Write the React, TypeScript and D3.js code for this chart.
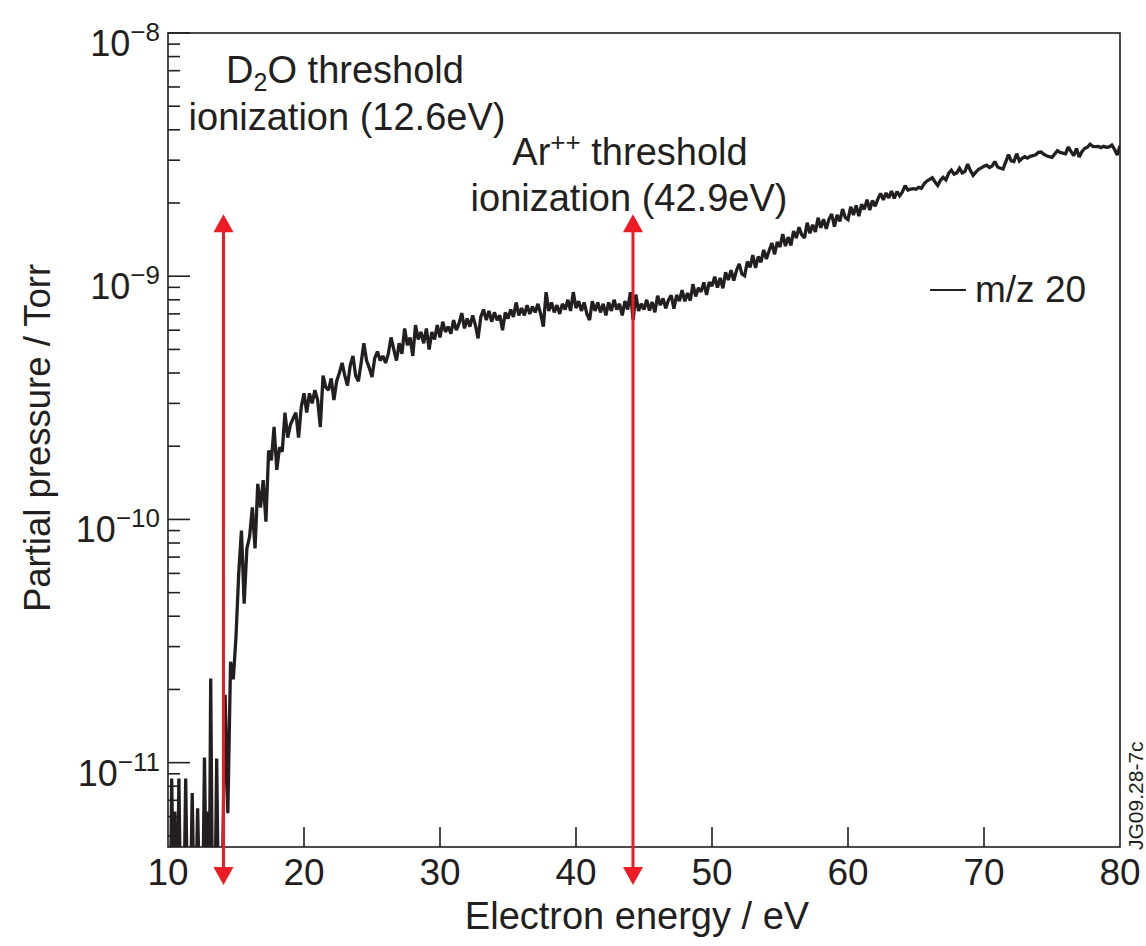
import React from 'react';
import * as d3 from 'd3';

// ---- data (pressure values in units of 1e-10 Torr) ----
const xTickValues = [10, 20, 30, 40, 50, 60, 70, 80];
const yDecadeValues = [1e-11, 1e-10, 1e-9, 1e-8];
const yDecadeExponents = ['−11', '−10', '−9', '−8'];

// below-threshold noise spikes (0 = no signal)
const lowEnergy = [10.0, 10.2, 10.27, 10.38, 10.5, 10.62, 10.72, 10.8, 10.9, 11.2,
  11.3, 11.4, 11.68, 11.78, 11.88, 12.08, 12.18, 12.28, 12.58, 12.68,
  12.8, 12.96, 13.05, 13.14, 13.25, 13.48, 13.58, 13.68, 14.0];
const lowPressure = [0, 0, 0.086, 0, 0.063, 0, 0, 0.086, 0, 0,
  0.086, 0, 0, 0.075, 0, 0, 0.065, 0, 0, 0.105,
  0, 0.063, 0, 0.222, 0, 0, 0.104, 0, 0];

const energyStep = 0.2;

const riseStart = 14.2;
const riseP = [0.19, 0.062, 0.26, 0.22, 0.33, 0.60, 0.90, 0.45, 0.76, 0.85,
  1.12, 0.76, 1.40, 1.12, 1.45, 0.98, 1.92, 1.75, 2.40, 1.60,
  1.98, 1.90, 2.75, 2.17, 2.45, 2.60, 2.75, 2.17, 2.90, 3.30,
  2.75, 3.30, 3.00, 3.40, 3.10, 2.40, 3.90, 3.50, 3.40, 3.80,
  3.10, 3.70, 4.00, 4.40, 3.90, 3.55, 4.30, 4.70, 3.90, 3.70,
  4.40, 5.30, 4.50, 4.20, 3.85, 4.60, 4.90, 4.50, 4.70, 4.40,
  4.80, 5.60, 5.00, 4.50, 5.30];

const plateauStart = 27.2;
const plateauP = [4.8, 6.1, 5.2, 5.6, 4.7, 6.3, 5.5, 5.9, 5.3, 6.1,
  5.0, 5.9, 5.5, 6.3, 5.6, 6.5, 5.9, 6.2, 5.8, 6.6,
  6.0, 6.4, 7.05, 6.1, 6.7, 6.2, 6.9, 6.3, 5.55, 6.8,
  7.3, 6.6, 7.2, 6.5, 7.1, 6.6, 6.9, 6.0, 7.1, 6.7,
  7.3, 6.8, 7.8, 6.9, 7.4, 6.9, 7.6, 7.0, 7.5, 7.1,
  7.7, 7.0, 6.2, 8.6, 7.2, 7.8, 7.1, 7.6, 7.0, 7.7,
  7.3, 8.0, 7.2, 8.6, 7.4, 7.9, 7.2, 7.8, 7.0, 6.6,
  7.9, 7.2, 7.8, 7.1, 7.7, 6.9, 7.8, 7.2, 8.0, 7.3,
  7.7, 6.9, 7.9, 7.3, 8.6, 6.6, 8.4, 7.2, 7.7, 7.3];

const climbStart = 45.2;
const climbP = [8.0, 7.22, 7.83, 7.11, 8.32, 7.6, 8.11, 7.38, 7.98, 8.35,
  7.36, 8.37, 7.91, 8.77, 7.89, 8.52, 7.94, 9.27, 8.26, 8.96,
  8.62, 9.43, 8.37, 9.46, 9.11, 9.95, 8.98, 9.84, 8.92, 10.39,
  9.65, 10.6, 9.59, 10.56, 11.24, 10.22, 10.04, 11.5, 10.88, 12.2,
  10.81, 12.05, 11.42, 12.83, 11.78, 12.73, 13.7, 12.31, 13.83, 13.19,
  14.9, 13.3, 14.48, 13.39, 15.33, 14.36, 15.9, 14.8, 14.38, 16.59,
  15.02, 16.27, 15.2, 17.39, 15.81, 17.16, 15.65, 17.14, 18.02, 16.0,
  17.87, 16.8, 18.89, 17.44, 17.1, 19.29, 17.85, 19.53, 17.67, 19.76,
  18.82, 20.62, 18.72, 20.5, 19.39];

const topStart = 62.2;
const topP = [20.8, 21.9, 20.6, 22.0, 21.0, 22.4, 20.9, 22.3, 21.4, 22.2,
  23.6, 22.6, 22.8, 22.9, 22.8, 23.2, 23.0, 24.0, 24.6, 25.0,
  25.4, 24.4, 23.6, 24.8, 25.5, 24.9, 26.5, 27.3, 26.3, 26.6,
  27.8, 26.6, 27.0, 28.9, 27.2, 26.0, 26.8, 27.5, 27.9, 28.3,
  28.6, 28.0, 28.4, 29.6, 28.1, 27.8, 27.6, 29.5, 31.6, 29.8,
  29.6, 31.9, 29.8, 30.5, 31.0, 30.6, 31.1, 31.3, 31.6, 32.3,
  32.4, 31.7, 31.3, 31.0, 30.8, 31.8, 32.8, 32.3, 32.1, 31.9,
  34.0, 32.5, 31.3, 33.5, 30.9, 32.5, 33.5, 33.9, 34.9, 34.2,
  34.1, 34.2, 33.8, 34.2, 33.9, 34.0, 34.6, 33.2, 31.5, 34.4];

const thresholdEnergies = [14.08, 44.19];
const thresholdTopPressure = 1.8e-9;

type Pt = { e: number; p: number };

const INK = '#231f20';
const RED = '#ed1c24';
const FONT = '"Liberation Sans", Arial, Helvetica, sans-serif';

export default function App() {
  const W = 1146, H = 946;
  const L = 168, R = 1120, T = 33, B = 847;
  const x = d3.scaleLinear().domain([10, 80]).range([L, R]);
  const y = d3.scaleLog().domain([4.5e-12, 1e-8]).range([B, T]);

  const seg = (start: number, arr: number[]): Pt[] =>
    arr.map((p, i) => ({ e: start + i * energyStep, p }));
  const series: Pt[] = [
    ...lowEnergy.map((e, i) => ({ e, p: lowPressure[i] })),
    ...seg(riseStart, riseP),
    ...seg(plateauStart, plateauP),
    ...seg(climbStart, climbP),
    ...seg(topStart, topP),
  ];
  const line = d3.line<Pt>()
    .x(d => x(d.e))
    .y(d => (d.p > 0 ? y(d.p * 1e-10) : B + 30));

  const minorTicks: number[] = [];
  [1e-12, 1e-11, 1e-10, 1e-9].forEach(dec => {
    for (let k = 2; k <= 9; k++) {
      const v = k * dec;
      if (v >= 4.5e-12 && v < 1e-8) minorTicks.push(v);
    }
  });

  const arrowTop = y(thresholdTopPressure);
  const arrowBottom = B + 38;
  const ah = 18, aw = 10;

  return (
    <svg width={W} height={H} style={{ position: 'absolute', left: 0, top: 0, background: '#fff' }}
      fontFamily={FONT}>
      <defs>
        <clipPath id="plotClip">
          <rect x={L} y={T} width={R - L} height={B - T} />
        </clipPath>
      </defs>

      {/* data line */}
      <path d={line(series) || ''} fill="none" stroke={INK} strokeWidth={3.3}
        strokeLinejoin="miter" strokeMiterlimit={2} clipPath="url(#plotClip)" />

      {/* frame */}
      <rect x={L} y={T} width={R - L} height={B - T} fill="none" stroke={INK} strokeWidth={1.6} />

      {/* y ticks */}
      {yDecadeValues.map((v, i) => (
        <g key={'yd' + i}>
          <line x1={L} x2={L + 22} y1={y(v)} y2={y(v)} stroke={INK} strokeWidth={1.6} />
          <text x={160} y={y(v) + 23} textAnchor="end" fontSize={36} fill={INK}>
            10<tspan fontSize={26} dy={-15}>{yDecadeExponents[i]}</tspan>
          </text>
        </g>
      ))}
      {minorTicks.map((v, i) => (
        <line key={'ym' + i} x1={L} x2={L + 12} y1={y(v)} y2={y(v)} stroke={INK} strokeWidth={1.6} />
      ))}

      {/* x ticks */}
      {xTickValues.map(v => (
        <g key={'xt' + v}>
          {v > 10 && v < 80 && (
            <line x1={x(v)} x2={x(v)} y1={B} y2={B - 20} stroke={INK} strokeWidth={1.6} />
          )}
          <text x={x(v)} y={885} textAnchor="middle" fontSize={37} fill={INK}>{v}</text>
        </g>
      ))}

      {/* axis titles */}
      <text x={637} y={929} textAnchor="middle" fontSize={38} fill={INK}>Electron energy / eV</text>
      <text transform={`translate(50,${438}) rotate(-90)`} textAnchor="middle" fontSize={36.5} fill={INK}>
        Partial pressure / Torr
      </text>

      {/* threshold arrows */}
      {thresholdEnergies.map((e, i) => {
        const xe = x(e);
        return (
          <g key={'arr' + i}>
            <line x1={xe} x2={xe} y1={arrowTop + ah - 1} y2={arrowBottom - ah + 1} stroke={RED} strokeWidth={3} />
            <polygon points={`${xe},${arrowTop} ${xe - aw},${arrowTop + ah} ${xe + aw},${arrowTop + ah}`} fill={RED} />
            <polygon points={`${xe},${arrowBottom} ${xe - aw},${arrowBottom - ah} ${xe + aw},${arrowBottom - ah}`} fill={RED} />
          </g>
        );
      })}

      {/* annotations */}
      <text x={345} y={83} textAnchor="middle" fontSize={38} fill={INK}>
        D<tspan fontSize={25} dy={8}>2</tspan><tspan dy={-8}>O threshold</tspan>
      </text>
      <text x={347} y={130} textAnchor="middle" fontSize={38} fill={INK}>ionization (12.6eV)</text>
      <text x={630} y={165} textAnchor="middle" fontSize={38} fill={INK}>
        Ar<tspan fontSize={26} dy={-14}>++</tspan><tspan dy={14}> threshold</tspan>
      </text>
      <text x={629} y={211} textAnchor="middle" fontSize={38} fill={INK}>ionization (42.9eV)</text>

      {/* legend */}
      <line x1={930} x2={966} y1={290} y2={290} stroke={INK} strokeWidth={2} />
      <text x={975} y={302} fontSize={37} fill={INK}>m/z 20</text>

      {/* figure id */}
      <text transform="translate(1143,850) rotate(-90)" fontSize={21} fill={INK}>JG09.28-7c</text>
    </svg>
  );
}
